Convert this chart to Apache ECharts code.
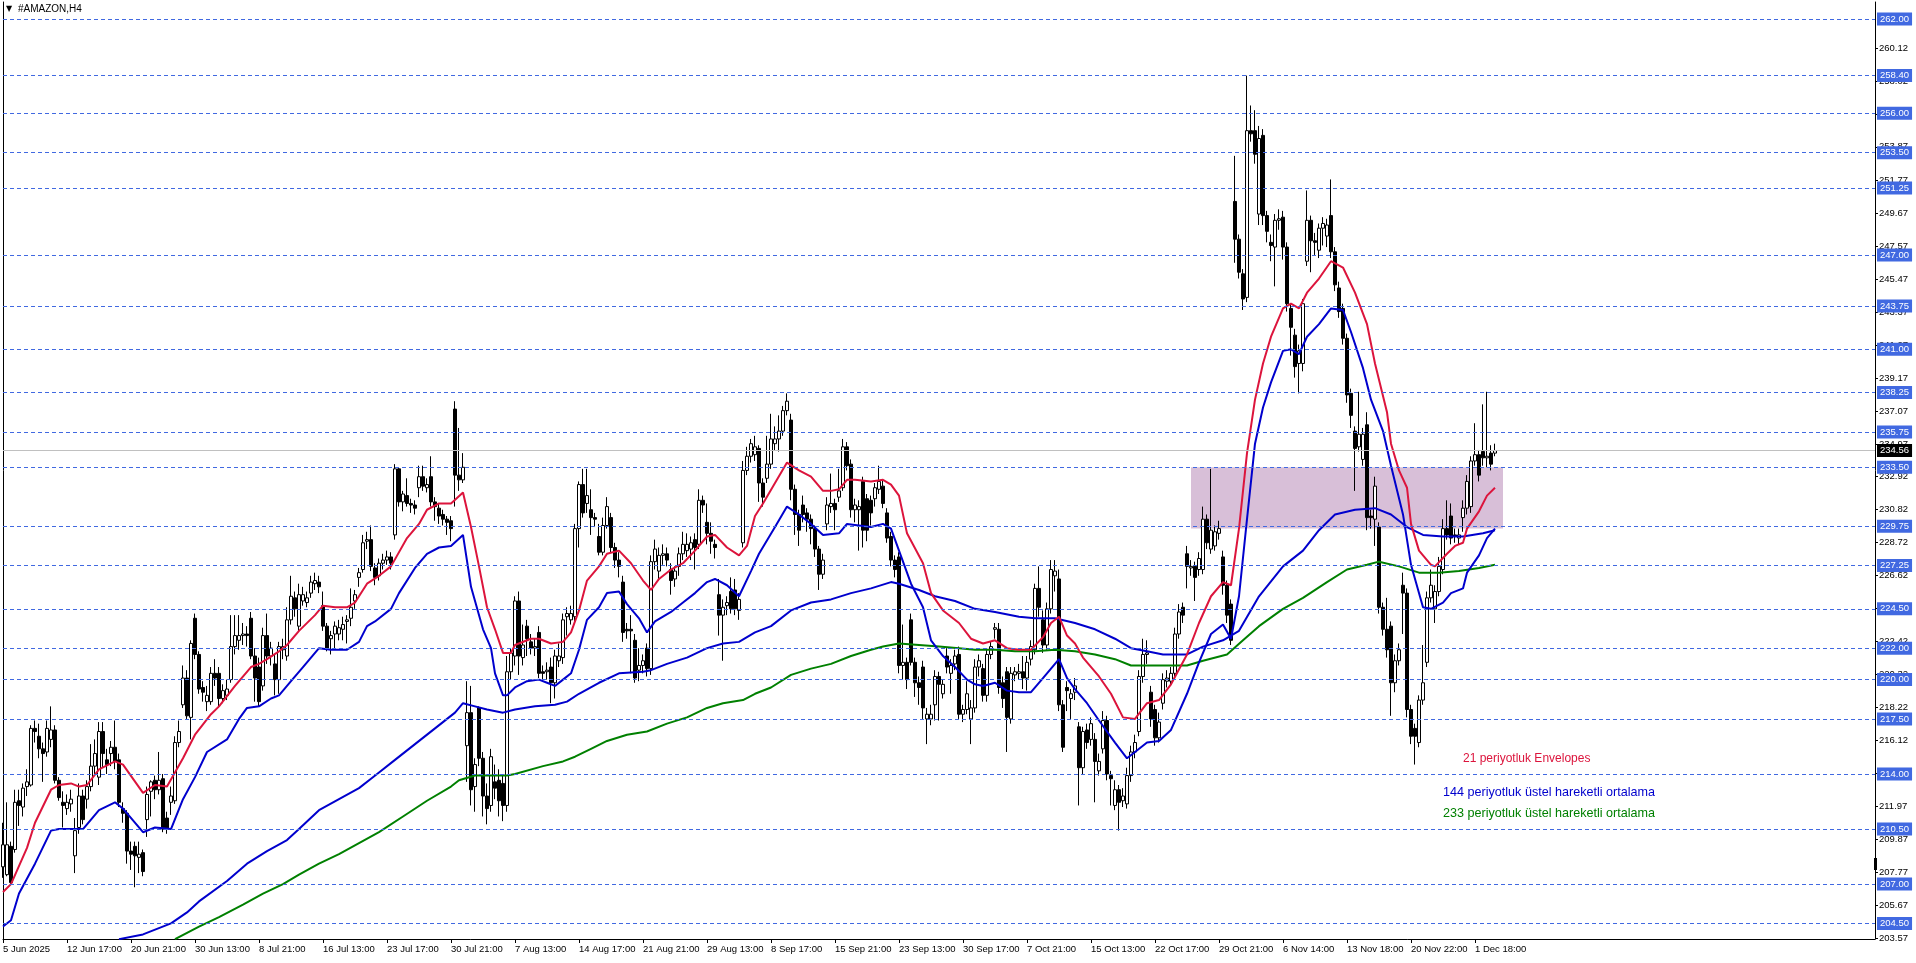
<!DOCTYPE html>
<html><head><meta charset="utf-8">
<script src="https://cdn.jsdelivr.net/npm/echarts@6/dist/echarts.min.js"></script>
<style>html,body{margin:0;padding:0;background:#fff}#c{width:1916px;height:963px}</style>
</head><body><div id="c"></div>
<script>
// ---------------- DATA ----------------
const tickLabels = ["5 Jun 2025","12 Jun 17:00","20 Jun 21:00","30 Jun 13:00","8 Jul 21:00","16 Jul 13:00","23 Jul 17:00","30 Jul 21:00","7 Aug 13:00","14 Aug 17:00","21 Aug 21:00","29 Aug 13:00","8 Sep 17:00","15 Sep 21:00","23 Sep 13:00","30 Sep 17:00","7 Oct 21:00","15 Oct 13:00","22 Oct 17:00","29 Oct 21:00","6 Nov 14:00","13 Nov 18:00","20 Nov 22:00","1 Dec 18:00"];
const yTicks = [203.57,205.67,207.77,209.87,211.97,214.02,216.12,218.22,220.32,222.42,224.52,226.62,228.72,230.82,232.92,234.97,237.07,239.17,241.27,243.37,245.47,247.57,249.67,251.77,253.87,255.92,258.02,260.12];
const levels = [262.00,258.40,256.00,253.50,251.25,247.00,243.75,241.00,238.25,235.75,233.50,229.75,227.25,224.50,222.00,220.00,217.50,214.00,210.50,207.00,204.50];
const currentPrice = 234.56;
const zoneBars = [297, 375];
const zonePrices = [233.5, 229.6];

const opens = [
208.1,207.6,209.4,209.2,212.3,211.9,213.2,213.3,216.9,216.4,
215.6,215.4,216.2,216.8,213.6,212.2,211.8,212.1,208.8,210.6,
212.6,212.4,213.2,214.5,213.8,216.7,214.9,215.3,215.7,214.9,
211.8,211.5,209.1,209.4,208.7,209.0,211.1,212.9,213.6,213.0,
213.7,211.2,212.2,212.3,216.0,218.4,220.1,217.6,223.9,221.6,
219.5,218.6,218.6,220.4,220.4,218.8,219.0,220.0,222.1,222.5,
222.8,222.9,223.9,221.5,220.8,219.6,222.8,221.5,221.0,220.0,
221.9,221.5,223.8,225.2,223.4,225.0,224.9,225.5,226.1,226.2,
224.7,223.4,222.6,222.9,222.9,223.2,223.7,223.9,225.0,226.5,
227.0,228.8,228.9,227.1,226.6,227.4,227.6,227.8,229.2,233.4,
231.3,231.7,231.2,231.1,232.2,232.9,232.2,232.9,231.3,230.9,
230.5,230.2,230.1,237.2,233.0,232.7,215.8,217.9,213.2,218.2,
215.0,212.6,212.0,213.5,213.6,213.4,212.0,220.5,221.5,225.0,
221.4,223.4,222.4,222.0,223.0,220.5,220.5,220.8,219.8,221.2,
221.4,224.0,223.8,224.0,229.6,232.4,231.2,230.8,230.3,229.1,
228.1,229.8,230.3,228.4,227.6,226.2,223.2,223.2,222.5,220.6,
220.9,222.0,220.7,227.5,226.9,227.9,228.0,227.0,226.4,227.2,
228.0,228.2,228.3,228.9,228.6,231.4,230.0,229.3,228.6,225.4,
224.1,224.7,225.6,225.7,224.4,228.7,233.3,234.2,
234.3,234.7,232.5,232.8,233.7,235.0,235.3,235.8,237.1,236.5,
232.1,230.5,231.1,230.6,230.2,229.6,228.3,226.7,229.9,231.0,
231.2,231.6,232.2,234.8,233.7,230.8,230.8,232.6,231.5,231.4,
231.5,232.1,232.3,230.6,229.1,227.6,227.8,220.9,221.1,223.8,
221.1,219.8,220.8,217.5,217.5,218.4,220.2,219.1,221.5,220.4,
221.0,221.6,217.8,218.1,217.5,218.2,220.8,220.7,219.0,221.6,
223.2,223.2,219.8,220.5,217.5,220.3,220.4,220.5,220.1,221.3,
221.9,225.8,223.8,222.2,224.5,226.6,226.4,218.4,219.5,218.8,
219.2,217.0,214.4,216.8,216.2,216.2,214.2,215.6,217.4,213.9,
212.0,213.0,212.3,212.1,213.9,215.4,216.7,220.2,221.6,219.2,
218.1,216.3,218.5,219.9,219.9,220.4,222.9,224.6,228.0,227.1,
227.2,227.0,227.0,230.2,228.3,228.5,229.3,227.8,226.0,224.8,
250.4,248.0,245.8,244.3,254.9,254.9,249.6,254.6,249.5,247.8,
247.5,249.2,249.4,247.5,243.6,241.9,240.1,240.1,246.6,249.2,
247.9,247.3,248.7,248.2,249.5,247.2,244.9,243.6,241.7,238.2,
235.8,234.8,234.0,236.2,230.4,230.2,229.7,224.6,223.2,223.4,
219.8,221.2,226.0,225.5,218.1,216.9,216.0,218.7,221.1,225.2,
224.5,225.6,227.0,229.6,230.4,229.2,229.0,230.3,230.9,231.0,
233.9,234.3,234.5,234.1,234.4,234.4];

const highs = [
210.9,212.2,209.7,213.0,213.0,213.4,214.3,217.1,217.4,217.2,
216.0,217.4,218.3,217.1,213.8,212.9,212.7,213.0,211.2,213.4,
213.0,213.6,215.9,216.2,217.3,217.3,215.6,216.1,217.4,215.3,
212.2,211.7,209.7,209.7,209.7,209.2,213.2,213.6,213.9,215.4,
214.0,211.6,213.2,216.4,217.4,220.9,220.6,222.5,224.2,221.8,
219.9,219.6,220.8,221.3,220.8,219.7,220.0,224.1,224.1,224.1,
223.6,223.4,224.3,222.0,221.4,223.3,224.2,222.4,221.6,222.4,
222.6,224.6,226.6,225.6,226.1,225.9,225.6,226.6,226.8,226.6,
225.6,223.6,223.1,223.7,223.8,224.0,224.1,225.8,225.7,227.1,
229.2,229.4,229.8,227.4,227.7,228.0,228.2,228.1,233.7,233.5,
232.0,232.8,231.5,231.4,233.6,233.6,232.8,234.2,231.6,231.2,
230.8,230.4,230.4,237.7,236.0,234.4,219.9,219.6,215.0,218.3,
215.4,213.4,215.6,214.6,214.3,214.0,221.5,222.0,225.3,225.6,
223.5,223.8,222.9,222.6,223.4,220.9,221.1,221.4,221.9,222.3,
224.2,224.6,224.7,229.9,232.6,233.4,233.4,232.1,230.6,229.9,
230.3,231.6,230.6,228.7,228.1,226.6,223.6,224.1,222.9,222.0,
221.6,222.3,227.9,228.9,228.4,228.6,228.4,227.4,227.2,228.4,
229.4,229.3,229.1,229.3,232.1,231.7,231.2,230.0,228.9,226.4,
225.1,225.3,226.5,226.4,225.5,233.9,234.8,235.3,
235.5,234.9,232.8,235.5,236.9,236.1,236.8,237.4,238.2,236.9,
232.4,230.8,231.7,230.9,230.5,229.8,228.5,228.0,231.6,233.1,
231.5,233.4,235.3,235.1,234.0,231.5,231.4,232.9,231.8,231.7,
232.5,233.6,232.7,230.9,229.4,227.9,228.1,223.5,221.4,224.2,
221.4,220.2,221.2,218.2,218.4,220.6,220.5,220.0,222.0,221.3,
221.9,222.1,218.4,219.9,218.7,221.3,221.6,221.0,222.0,222.4,
223.6,223.6,220.2,220.8,220.8,220.8,221.0,221.5,221.5,222.5,
226.1,227.2,224.4,224.9,227.6,227.6,227.0,218.7,219.9,219.4,
220.1,217.3,217.0,217.2,217.6,216.6,215.3,218.0,217.7,214.2,
213.6,213.3,213.1,214.4,215.8,216.5,220.6,222.6,222.5,219.6,
218.4,217.9,220.4,220.6,220.8,223.3,224.8,224.9,228.5,227.6,
227.5,228.1,231.0,230.5,233.4,229.8,230.1,228.2,226.3,225.1,
253.3,248.3,246.1,258.4,256.5,256.2,255.2,255.0,249.8,248.3,
249.6,249.9,249.8,247.8,243.9,242.3,241.3,244.2,251.1,249.5,
248.4,249.0,249.4,249.3,251.8,247.5,245.3,243.9,242.0,238.5,
236.1,238.3,236.0,237.0,230.8,232.9,230.0,224.9,225.2,223.7,
221.6,222.3,226.8,225.8,218.4,217.2,219.0,222.2,225.6,227.0,
226.0,227.8,230.2,231.4,231.2,229.6,229.6,231.4,233.0,234.2,
236.3,234.6,237.5,238.3,234.9,235.0];

const lows = [
207.4,207.5,207.0,209.0,210.7,211.3,212.6,213.2,216.0,215.0,
213.5,215.1,215.7,213.4,212.3,210.6,211.4,211.6,207.7,210.2,
210.8,211.8,212.9,214.0,213.3,214.4,214.0,214.5,214.3,211.9,
210.9,208.3,207.9,206.8,207.7,207.5,210.0,211.3,212.4,212.7,
210.3,210.2,211.4,212.1,215.7,218.2,217.5,216.2,221.3,219.1,
218.6,218.0,218.4,219.6,218.2,218.5,218.7,219.8,221.6,221.9,
222.2,222.1,221.3,218.6,218.3,219.3,221.0,220.9,219.0,219.1,
221.3,221.2,223.5,224.0,223.1,224.7,224.6,225.2,225.7,225.5,
223.1,221.8,221.6,222.0,222.5,222.5,222.3,223.4,224.5,225.9,
226.8,228.3,226.9,226.0,226.3,227.0,227.3,227.0,228.9,231.0,
230.7,231.0,230.6,230.5,231.6,232.0,231.9,231.0,230.1,229.9,
229.8,229.2,228.8,231.0,232.0,232.5,213.5,212.0,211.6,214.5,
211.3,210.8,211.6,212.4,211.3,211.0,211.6,220.0,220.9,220.3,
220.9,221.5,221.6,221.5,220.1,220.0,220.0,218.5,218.8,220.8,
221.0,222.8,223.5,223.7,228.4,230.3,230.6,229.2,229.7,227.9,
227.9,229.6,228.1,227.1,226.5,222.4,222.6,220.4,219.8,219.9,
220.4,220.2,220.3,227.0,226.3,227.3,227.2,225.4,225.9,226.6,
227.6,227.8,227.6,227.0,228.3,230.6,228.6,228.0,227.7,222.8,
221.2,224.1,224.2,224.1,223.8,228.4,233.0,233.8,
233.9,231.3,231.0,232.5,233.4,234.6,234.5,235.5,236.8,231.4,
229.2,228.5,230.0,229.4,228.6,227.8,225.7,226.4,229.5,230.6,
229.5,231.3,232.0,233.3,230.3,230.0,228.2,228.4,228.8,229.8,
231.0,231.8,230.9,228.7,227.2,226.5,220.4,220.0,219.4,220.9,
218.9,218.4,217.5,215.9,217.1,217.4,217.4,218.8,220.4,219.1,
220.6,217.5,217.3,217.8,215.9,217.9,220.2,218.6,218.6,221.3,
222.6,219.1,218.2,215.4,217.2,219.9,220.0,219.4,219.3,220.9,
221.6,224.0,221.7,221.9,224.2,225.6,218.0,215.4,218.0,217.5,
218.7,212.0,214.0,215.6,215.8,212.2,213.9,215.3,213.6,212.0,
211.7,210.4,211.9,211.8,213.5,215.0,216.4,219.8,221.0,217.0,
215.8,216.0,218.1,219.5,219.6,220.0,222.6,223.6,225.8,226.6,
225.0,226.6,226.7,228.3,228.0,228.2,228.9,225.4,223.6,222.2,
246.5,245.5,243.5,244.0,254.2,252.8,248.9,248.9,247.8,246.6,
245.0,248.6,246.7,243.4,240.6,239.2,238.2,239.6,246.3,245.9,
247.0,246.8,247.6,247.5,246.8,244.7,243.0,241.3,237.6,236.0,
232.0,234.5,233.6,229.5,229.6,228.5,224.2,222.8,221.4,217.7,
219.2,220.9,222.9,217.6,215.9,214.6,215.7,218.4,220.8,224.9,
223.6,225.3,226.7,228.9,228.6,228.7,228.6,229.4,230.5,230.6,
233.6,232.6,233.6,233.5,233.3,234.2];

const closes = [
209.5,209.5,207.1,212.2,212.0,213.1,213.5,216.9,216.7,215.6,
215.3,216.9,216.8,213.6,212.5,212.0,212.2,212.4,210.4,212.6,
211.1,213.2,214.5,215.3,216.7,215.3,214.6,215.7,214.8,212.2,
211.5,209.1,208.9,208.8,208.9,207.8,212.7,213.5,213.0,213.6,
210.5,210.5,212.6,216.0,216.7,220.1,217.7,222.3,221.6,219.4,
219.2,219.0,220.4,220.1,218.8,219.3,219.4,222.1,222.8,222.8,
222.9,222.8,221.5,220.1,218.6,222.8,221.5,222.0,220.0,222.1,
222.1,223.8,225.3,224.5,225.4,225.4,225.2,226.2,226.3,225.9,
223.4,222.0,222.8,223.4,223.3,223.5,223.8,224.6,225.4,226.8,
228.7,228.9,227.2,226.5,227.4,227.6,227.8,227.4,233.4,231.3,
231.8,231.2,231.1,230.9,232.9,232.3,232.4,231.3,231.0,230.4,
230.2,230.0,229.6,233.0,232.7,233.5,217.9,213.0,214.6,215.0,
212.6,211.8,215.1,213.1,212.3,212.0,220.5,221.7,225.0,221.5,
222.2,222.6,222.0,222.1,220.4,220.4,220.6,219.8,221.5,221.5,
223.8,224.2,224.2,229.6,232.4,230.6,231.7,230.3,230.2,228.1,
229.8,231.0,228.4,227.6,227.2,223.0,223.1,223.1,220.1,220.9,
221.2,220.7,227.5,228.3,227.9,228.0,227.6,226.3,226.9,228.0,
228.6,228.6,228.7,228.4,231.4,231.1,229.3,228.8,228.4,224.1,
224.6,224.9,224.5,224.5,225.1,233.3,234.2,235.0,
234.8,232.5,231.6,233.7,235.3,235.3,235.8,237.1,237.7,232.1,
230.5,229.5,230.5,230.2,229.6,228.3,226.7,227.6,231.1,231.2,
230.8,232.0,234.8,233.6,230.8,231.1,231.0,229.5,229.5,230.6,
232.2,232.6,231.2,229.0,227.6,227.0,220.9,221.1,220.0,221.1,
219.8,219.5,218.2,217.8,217.8,220.2,219.7,219.7,220.8,220.9,
221.5,217.8,218.1,219.1,218.2,220.8,221.2,219.0,221.6,222.1,
223.3,219.5,218.8,217.6,220.4,220.5,220.5,220.1,221.1,222.1,
225.8,224.6,222.2,224.5,227.0,226.9,218.4,215.7,219.3,219.1,
219.6,214.4,216.7,216.0,217.2,214.8,214.8,217.4,214.0,213.7,
213.0,212.2,212.6,213.9,215.4,216.0,220.2,221.6,221.7,217.5,
216.3,217.3,220.0,220.1,220.4,222.9,224.3,224.1,227.2,227.2,
226.5,227.7,230.2,228.7,229.5,229.4,229.6,226.0,224.1,222.5,
248.0,245.9,244.2,254.9,254.7,253.4,254.4,249.5,248.5,247.6,
249.2,249.3,247.5,243.9,242.4,239.9,240.9,243.9,249.2,247.9,
247.8,248.7,249.0,248.9,247.2,245.1,243.4,241.7,238.1,236.8,
234.7,235.6,235.6,230.3,230.3,232.3,224.6,223.2,221.9,219.8,
221.2,221.9,225.5,218.1,216.4,216.4,218.7,219.8,225.2,226.0,
225.6,227.2,229.6,229.2,229.0,229.1,229.2,230.9,232.6,233.9,
234.3,233.0,234.1,234.2,233.7,234.56];

// 21-period Envelopes: upper (red) and lower (blue) bands, read at bar positions
const envUpperBar = [0,2,6,8,12,14,17,19,21,24,28,30,35,38,41,45,48,52,54,58,62,64,66,69,71,74,78,80,83,86,88,91,94,97,101,104,106,109,112,115,117,119,121,123,125,127,128,132,134,137,140,142,144,146,149,151,154,157,160,162,164,167,170,173,176,178,181,184,186,188,190,193,196,199,202,205,207,209,211,213,217,220,222,224,226,230,232,235,237,239,242,245,248,251,254,257,260,262,264,266,268,270,274,277,280,283,286,289,292,296,299,302,305,307,309,311,313,315,317,320,322,324,326,329,332,335,338,341,343,346,347,349,351,352,354,357,358,361,363,365,366,369,371,373];
const envUpperVal = [206.5,207.0,209.3,210.9,213.0,213.3,213.4,213.2,213.3,214.3,214.8,214.6,212.8,213.3,213.2,215.0,216.5,217.8,218.3,219.6,220.8,221.0,221.3,221.8,222.2,223.1,224.1,224.7,224.6,224.6,224.9,226.1,226.6,227.2,229.0,229.9,230.8,231.2,231.2,231.9,229.7,227.2,224.6,223.2,221.7,221.7,222.2,222.6,222.6,222.3,222.4,223.0,224.4,226.3,227.2,228.0,228.2,227.4,226.3,225.7,226.4,227.0,227.4,228.2,229.1,229.2,228.4,227.9,228.5,230.4,231.2,232.5,233.8,233.3,232.9,232.0,232.0,232.1,232.7,232.7,232.6,232.7,232.4,231.7,229.3,227.4,225.5,224.4,224.0,223.6,222.6,222.3,222.5,222.0,221.9,221.9,222.7,223.6,224.0,222.8,222.3,221.4,220.2,219.1,217.6,217.5,218.5,218.7,219.7,221.6,223.6,225.3,226.2,226.0,229.6,234.4,237.8,240.1,241.8,243.6,243.9,243.6,244.6,245.5,246.6,246.2,244.6,242.6,240.1,237.0,235.0,233.3,232.2,229.9,228.2,227.3,227.2,228.0,228.5,228.7,229.6,230.7,231.7,232.2];
const envLowerBar = [0,2,4,8,12,14,20,24,28,30,35,38,42,45,48,51,56,59,61,64,67,69,72,75,79,82,86,89,91,93,97,99,103,106,109,112,115,117,120,122,123,125,126,128,131,134,136,138,140,142,144,146,149,151,154,156,159,161,163,167,170,173,176,178,181,184,187,189,193,196,199,202,205,209,211,214,217,220,222,224,227,230,232,235,238,241,243,245,248,251,254,257,260,262,264,266,268,271,274,278,281,283,286,289,292,296,299,302,305,307,309,311,313,315,317,320,322,324,326,329,332,335,337,340,342,345,347,350,352,355,357,360,362,365,366,369,371,373];
const envLowerVal = [204.3,204.7,206.4,208.3,210.4,210.5,210.5,211.7,212.2,211.8,210.3,210.6,210.5,212.4,213.8,215.4,216.2,217.5,218.2,218.3,218.8,219.0,219.9,220.8,222.0,221.9,221.9,222.4,223.4,223.7,224.5,225.5,227.1,228.0,228.4,228.5,229.2,225.9,223.2,222.0,220.4,219.0,219.0,219.5,219.9,220.0,219.8,219.6,220.0,220.4,221.9,223.8,224.6,225.5,225.6,224.8,223.9,223.0,223.7,224.3,224.9,225.5,226.2,226.4,226.0,225.3,226.9,228.0,229.7,231.0,230.5,229.9,229.2,229.3,229.9,229.8,229.7,229.9,229.6,228.2,226.1,224.6,222.5,221.5,220.8,220.0,219.7,219.6,219.8,219.3,219.2,219.2,220.1,220.7,221.3,220.1,219.4,218.5,217.4,216.0,215.0,215.4,216.0,216.1,216.8,219.1,221.1,222.9,223.5,222.6,225.3,230.2,235.0,237.3,238.9,240.9,241.0,240.7,241.8,242.6,243.6,243.5,242.1,239.8,237.8,235.8,233.6,230.5,227.3,224.6,224.5,224.9,225.5,225.8,226.8,227.9,229.0,229.6];
// 144-period EMA (blue)
const ema144Bar = [29,35,42,46,49,56,61,66,71,74,79,84,89,92,94,98,103,108,113,115,118,121,125,128,133,138,141,144,149,154,160,162,166,171,176,180,184,188,192,197,202,207,212,217,222,224,229,233,238,243,248,254,258,263,268,273,278,282,286,290,296,300,305,309,314,320,325,329,333,338,343,347,351,355,360,365,370,373];
const ema144Val = [203.5,203.8,204.5,205.2,205.9,207.2,208.3,209.1,209.8,210.5,211.7,212.4,213.1,213.7,214.1,214.9,215.9,216.9,217.9,218.5,218.3,218.1,217.9,218.1,218.3,218.4,218.6,219.1,219.8,220.4,220.5,220.6,221.0,221.4,222.0,222.3,222.4,223.0,223.4,224.4,224.9,225.1,225.5,225.8,226.2,226.1,225.7,225.3,225.0,224.5,224.3,224.0,223.9,223.9,223.6,223.2,222.6,222.0,221.8,221.6,221.6,222.1,222.5,223.1,225.3,227.2,228.2,229.5,230.5,230.8,230.9,230.5,229.7,229.2,229.1,229.1,229.3,229.5];
// 233-period EMA (green)
const ema233Bar = [43,49,54,60,65,70,74,79,84,89,94,100,106,112,114,118,126,128,135,140,143,147,151,156,161,166,171,176,180,185,188,192,197,202,207,212,217,220,224,229,234,239,243,248,253,258,263,268,273,278,282,286,291,296,300,306,310,314,320,325,331,336,341,344,349,354,359,364,369,373];
const ema233Val = [203.5,204.3,204.9,205.7,206.4,207.0,207.6,208.3,208.9,209.6,210.3,211.3,212.3,213.2,213.6,213.9,213.9,214.0,214.5,214.8,215.1,215.6,216.1,216.5,216.7,217.2,217.6,218.2,218.5,218.7,219.1,219.5,220.3,220.7,221.0,221.5,221.9,222.1,222.3,222.2,222.1,222.0,221.9,221.9,221.8,221.8,221.9,221.8,221.6,221.3,220.9,220.9,220.9,220.9,221.2,221.6,222.5,223.4,224.5,225.2,226.2,227.0,227.3,227.5,227.2,226.8,226.8,226.9,227.1,227.3];

// ---------------- CHART ----------------
const FONT = 'Liberation Sans';
const N_CAT = 469;
const categories = Array.from({length: N_CAT}, (_, i) => String(i));
const Y_MIN = 203.51, Y_MAX = 263.08;
const showTick = (i) => i % 16 === 0 && (i / 16) < tickLabels.length;
const pairs = (xs, ys) => xs.map((x, k) => [x, ys[k]]);

const candleData = opens.map((o, i) => [o, closes[i], lows[i], highs[i]]);

const chart = echarts.init(document.getElementById('c'), null, {renderer: 'canvas'});
const levelLines = levels.map(v => ({yAxis: v}));
levelLines.push({
  yAxis: currentPrice,
  lineStyle: {color: '#C0C0C0', type: 'solid', width: 1},
  label: {backgroundColor: '#000000', color: '#ffffff'}
});

const option = {
  animation: false,
  backgroundColor: '#ffffff',
  textStyle: {fontFamily: FONT},
  grid: {left: 3, right: 41, top: 2, bottom: 24, show: false},
  xAxis: {
    type: 'category', data: categories, boundaryGap: false,
    axisLine: {show: true, onZero: false, lineStyle: {color: '#000', width: 1}},
    axisTick: {show: true, interval: showTick, length: 4, lineStyle: {color: '#000'}},
    axisLabel: {
      interval: showTick, align: 'left', margin: 5, color: '#000',
      fontSize: 9.5, fontFamily: FONT,
      formatter: (v, i) => tickLabels[Math.round(i / 16)] || ''
    },
    splitLine: {show: false}
  },
  yAxis: [{
    type: 'value', position: 'right', min: Y_MIN, max: Y_MAX,
    axisLine: {show: true, lineStyle: {color: '#000', width: 1}},
    axisTick: {show: true, length: 3, customValues: yTicks, lineStyle: {color: '#000'}},
    axisLabel: {customValues: yTicks, formatter: v => v.toFixed(2), margin: 4, color: '#000', fontSize: 9.5, fontFamily: FONT},
    splitLine: {show: false}
  }, {
    type: 'value', position: 'left', min: Y_MIN, max: Y_MAX,
    axisLine: {show: true, lineStyle: {color: '#000', width: 1}},
    axisTick: {show: false}, axisLabel: {show: false}, splitLine: {show: false}
  }],
  series: [
    {
      type: 'line', data: [], z: 1, silent: true,
      markArea: {
        silent: true,
        itemStyle: {color: '#D8BFD8', opacity: 1},
        data: [[{xAxis: String(zoneBars[0]), yAxis: zonePrices[0]}, {xAxis: String(zoneBars[1]), yAxis: zonePrices[1]}]]
      }
    },
    {
      type: 'line', data: [], z: 2, silent: true,
      markLine: {
        silent: true, symbol: ['none', 'none'], animation: false,
        lineStyle: {color: '#4169E1', type: [4, 3], width: 1},
        label: {
          position: 'end', distance: 2, color: '#ffffff', backgroundColor: '#4169E1',
          padding: [2, 3, 1, 3], fontSize: 9.5, fontFamily: FONT,
          formatter: p => Number(p.value).toFixed(2)
        },
        data: levelLines
      }
    },
    {
      type: 'candlestick', data: candleData, z: 3, barWidth: 3,
      itemStyle: {color: '#ffffff', color0: '#000000', borderColor: '#000000', borderColor0: '#000000', borderWidth: 1}
    },
    {type: 'line', data: pairs(ema233Bar, ema233Val), z: 4, showSymbol: false, symbol: 'none', lineStyle: {color: '#008000', width: 2}},
    {type: 'line', data: pairs(ema144Bar, ema144Val), z: 4, showSymbol: false, symbol: 'none', lineStyle: {color: '#0000CD', width: 2}},
    {type: 'line', data: pairs(envLowerBar, envLowerVal), z: 4, showSymbol: false, symbol: 'none', lineStyle: {color: '#0000CD', width: 2}},
    {type: 'line', data: pairs(envUpperBar, envUpperVal), z: 4, showSymbol: false, symbol: 'none', lineStyle: {color: '#DC143C', width: 2}}
  ],
  graphic: [
    {type: 'text', left: 6, top: 5, style: {text: '▼', fontSize: 8, fill: '#000', fontFamily: 'DejaVu Sans'}},
    {type: 'text', left: 18, top: 4, style: {text: '#AMAZON,H4', fontSize: 10, fill: '#000', fontFamily: FONT}},
    {type: 'text', left: 1463, top: 753, style: {text: '21 periyotluk Envelopes', fontSize: 12, fill: '#DC143C', fontFamily: FONT}},
    {type: 'text', left: 1443, top: 786, style: {text: '144 periyotluk üstel hareketli ortalama', fontSize: 12.6, fill: '#0000CD', fontFamily: FONT}},
    {type: 'text', left: 1443, top: 807, style: {text: '233 periyotluk üstel hareketli ortalama', fontSize: 12.6, fill: '#008000', fontFamily: FONT}},
    {type: 'rect', left: 1874, top: 858, shape: {width: 3, height: 12}, style: {fill: '#000'}}
  ]
};
chart.setOption(option);
</script></body></html>
